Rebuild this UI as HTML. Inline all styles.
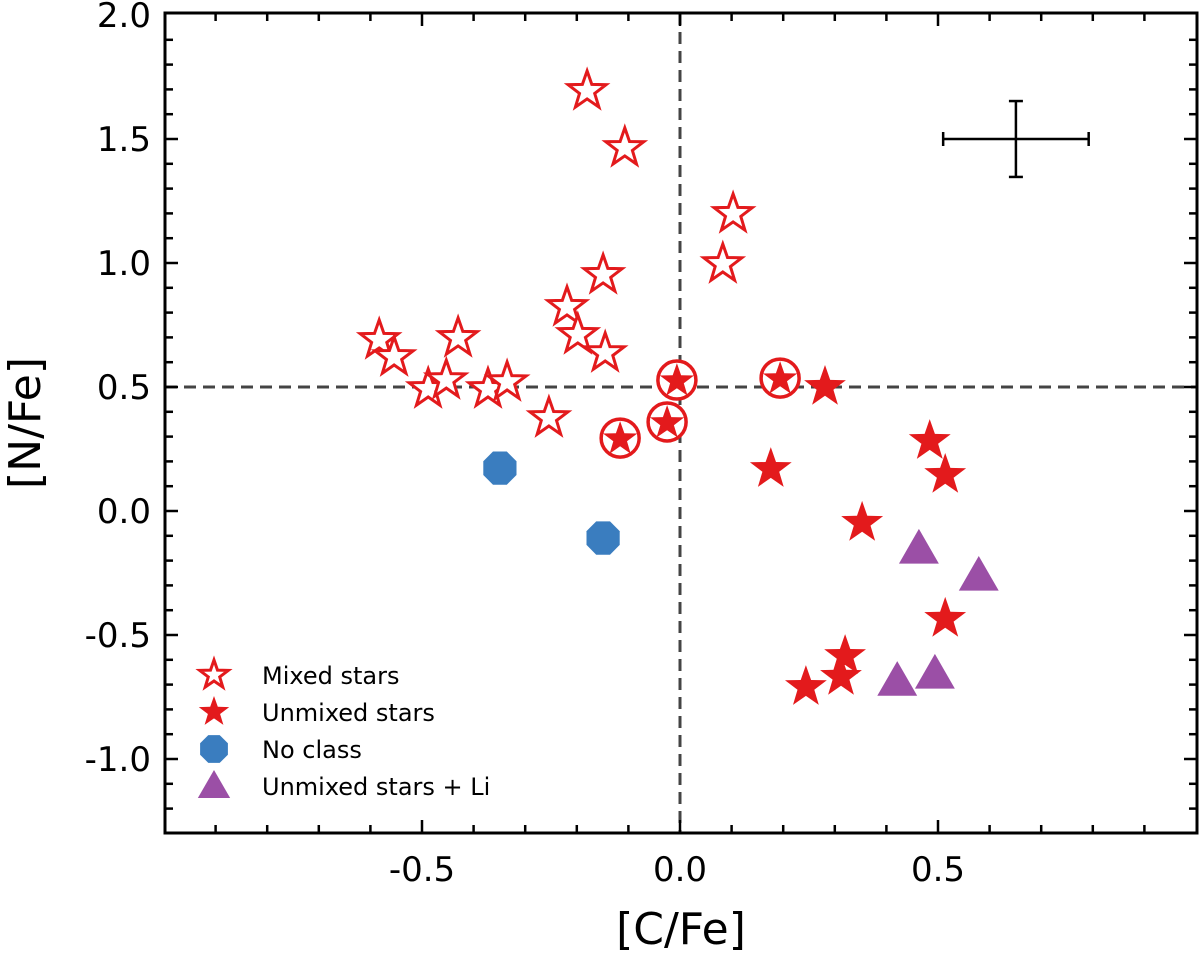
<!DOCTYPE html>
<html><head><meta charset="utf-8"><style>
body{margin:0;background:#fff}
svg text{font-family:"DejaVu Sans","Liberation Sans",sans-serif;fill:#000}
</style></head><body>
<svg id="chart" width="1200" height="956" xmlns="http://www.w3.org/2000/svg"></svg>
<script>
const mixedX=[-0.18,-0.107,0.103,0.083,-0.149,-0.219,-0.198,-0.145,-0.583,-0.554,-0.43,-0.488,-0.453,-0.372,-0.335,-0.254];
const mixedY=[1.694,1.464,1.198,0.996,0.952,0.823,0.71,0.637,0.69,0.621,0.698,0.492,0.528,0.492,0.52,0.375];
const unmixedX=[0.281,0.176,0.484,0.514,0.353,0.514,0.32,0.312,0.244];
const unmixedY=[0.5,0.169,0.282,0.145,-0.048,-0.435,-0.585,-0.669,-0.71];
const circledX=[-0.006,-0.025,-0.116,0.194];
const circledY=[0.528,0.359,0.294,0.536];
const noclassX=[-0.349,-0.149];
const noclassY=[0.173,-0.109];
const liX=[0.463,0.579,0.494,0.421];
const liY=[-0.157,-0.266,-0.661,-0.69];
const errX=[0.651],errY=[1.5],errXe=[0.141],errYe=[0.153];
const xTicks=[-0.5,0.0,0.5];
const xTickLabels=["-0.5","0.0","0.5"];
const yTicks=[-1.0,-0.5,0.0,0.5,1.0,1.5,2.0];
const yTickLabels=["-1.0","-0.5","0.0","0.5","1.0","1.5","2.0"];

const L=165,R=1197,T=13,B=833;
const xs=v=>680+v*516, ys=v=>511-v*248;
const svg=document.getElementById('chart');
const NS='http://www.w3.org/2000/svg';
function mk(tag,attrs,parent){const e=document.createElementNS(NS,tag);for(const k in attrs)e.setAttribute(k,attrs[k]);(parent||svg).appendChild(e);return e;}
function starPath(cx,cy,r){let d='';for(let i=0;i<10;i++){const rr=i%2?r*0.4:r;const a=-Math.PI/2+i*Math.PI/5;d+=(i?'L':'M')+(cx+rr*Math.cos(a)).toFixed(1)+','+(cy+rr*Math.sin(a)).toFixed(1);}return d+'Z';}
function octPath(cx,cy,r){let d='';for(let i=0;i<8;i++){const a=Math.PI/8+i*Math.PI/4;d+=(i?'L':'M')+(cx+r*Math.cos(a)).toFixed(1)+','+(cy+r*Math.sin(a)).toFixed(1);}return d+'Z';}
function triPath(cx,cy,r){return `M${cx},${cy-r}L${cx+r*0.95},${cy+r*0.65}L${cx-r*0.95},${cy+r*0.65}Z`;}

let e=mk('line',{x1:L,x2:R,y1:ys(0.5),y2:ys(0.5),stroke:'#444','stroke-width':3,'stroke-dasharray':'12,7'});

e=mk('line',{x1:xs(0),x2:xs(0),y1:T,y2:B,stroke:'#444','stroke-width':3,'stroke-dasharray':'12,7'});


for(let v=-0.9;v<=0.95;v+=0.1){const x=xs(v);const maj=xTicks.some(t=>Math.abs(t-v)<1e-6);const len=maj?13:8;
mk('line',{x1:x,x2:x,y1:B,y2:B-len,stroke:'#000','stroke-width':2.5});mk('line',{x1:x,x2:x,y1:T,y2:T+len,stroke:'#000','stroke-width':2.5});}
for(let v=-1.2;v<=1.95;v+=0.1){const y=ys(v);const maj=yTicks.some(t=>Math.abs(t-v)<1e-6);const len=maj?13:8;
mk('line',{x1:L,x2:L+len,y1:y,y2:y,stroke:'#000','stroke-width':2.5});mk('line',{x1:R,x2:R-len,y1:y,y2:y,stroke:'#000','stroke-width':2.5});}
xTicks.forEach((v,i)=>{const t=mk('text',{x:xs(v),y:B+48,'text-anchor':'middle','font-size':34});t.textContent=xTickLabels[i];
});
yTicks.forEach((v,i)=>{const t=mk('text',{x:L-14,y:ys(v)+12,'text-anchor':'end','font-size':34});t.textContent=yTickLabels[i];
});

const red='#e31a1c';
mixedX.forEach((x,i)=>{const p=mk('path',{d:starPath(xs(x),ys(mixedY[i]),20),fill:'#fff',stroke:red,'stroke-width':3,'stroke-linejoin':'miter'});
});
unmixedX.forEach((x,i)=>{const p=mk('path',{d:starPath(xs(x),ys(unmixedY[i]),22),fill:red});
});
circledX.forEach((x,i)=>{const cx=xs(x),cy=ys(circledY[i]);
const c=mk('circle',{cx:cx,cy:cy,r:19,fill:'#fff',stroke:red,'stroke-width':3.5});

const p=mk('path',{d:starPath(cx,cy+1,18),fill:red});
});
noclassX.forEach((x,i)=>{const p=mk('path',{d:octPath(xs(x),ys(noclassY[i]),18),fill:'#3a7dbf'});
});
liX.forEach((x,i)=>{const p=mk('path',{d:triPath(xs(x),ys(liY[i]),21),fill:'#9b4fa6'});
});

const ex=xs(errX[0]),ey=ys(errY[0]),x1=xs(errX[0]-errXe[0]),x2=xs(errX[0]+errXe[0]),y1=ys(errY[0]+errYe[0]),y2=ys(errY[0]-errYe[0]);
const eg=mk('g',{stroke:'#000','stroke-width':2.5});

mk('line',{x1:x1,x2:x2,y1:ey,y2:ey},eg);mk('line',{x1:ex,x2:ex,y1:y1,y2:y2},eg);
mk('line',{x1:x1,x2:x1,y1:ey-7,y2:ey+7},eg);mk('line',{x1:x2,x2:x2,y1:ey-7,y2:ey+7},eg);
mk('line',{x1:ex-7,x2:ex+7,y1:y1,y2:y1},eg);mk('line',{x1:ex-7,x2:ex+7,y1:y2,y2:y2},eg);

e=mk('rect',{x:L,y:T,width:R-L,height:B-T,fill:'none',stroke:'#000','stroke-width':3});


const lg=mk('g',{});
const items=[['Mixed stars','mixed'],['Unmixed stars','unmixed'],['No class','noclass'],['Unmixed stars + Li','li']];
items.forEach((it,i)=>{const cy=675+i*37,cx=214;
let m;
if(it[1]=='mixed')m=mk('path',{d:starPath(cx,cy,15),fill:'#fff',stroke:red,'stroke-width':3},lg);
else if(it[1]=='unmixed')m=mk('path',{d:starPath(cx,cy,16),fill:red},lg);
else if(it[1]=='noclass')m=mk('path',{d:octPath(cx,cy,15),fill:'#3a7dbf'},lg);
else m=mk('path',{d:triPath(cx,cy+1,17),fill:'#9b4fa6'},lg);

const t=mk('text',{x:262,y:cy+9,'font-size':24},lg);t.textContent=it[0];
});

e=mk('text',{x:681,y:944,'text-anchor':'middle','font-size':44});e.textContent='[C/Fe]';

e=mk('text',{x:0,y:0,'text-anchor':'middle','font-size':44,transform:'translate(40,423) rotate(-90)'});e.textContent='[N/Fe]';

</script>
</body></html>
